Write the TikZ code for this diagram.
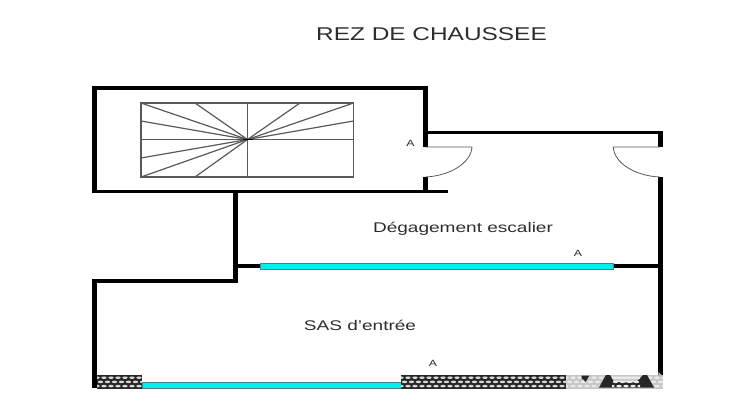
\documentclass[tikz,border=0pt]{standalone}
\usepackage{fontspec}
\setmainfont{Liberation Sans}
\definecolor{glass}{RGB}{0,240,240}
\definecolor{glassedge}{RGB}{70,130,135}
\definecolor{txt}{RGB}{45,45,45}
\newcommand{\wide}[1]{\scalebox{1.36}[1]{#1}}
\newcommand{\scallops}[4]{% x0, x1, colour, unused
  \begin{scope}
    \clip (#1,375.5) rectangle (#2,388.5);
    \foreach \yy/\off in {377.7/0,381.9/3.5,386.1/0}{
      \foreach \xx in {0,7,...,280}{
        \fill[#3] ({#1+\xx+\off},\yy) ellipse[x radius=2.7,y radius=1.25];
      }
    }
  \end{scope}}
\tikzset{
  thick wall/.style={line width=5pt,line cap=butt,line join=round,black},
  thin wall/.style={line width=3.5pt,line cap=butt,line join=round,black},
  hair/.style={line width=1.2pt,black!65},
  door/.style={line width=.8pt,black!65},
  glasspane/.style={fill=glass,draw=glassedge,line width=.8pt},
  tlabel/.style={font=\fontsize{14pt}{16pt}\selectfont,text=txt,inner sep=0pt},
  ttitle/.style={font=\fontsize{18.5pt}{20pt}\selectfont,text=txt,inner sep=0pt},
  tmark/.style={font=\fontsize{9pt}{10pt}\selectfont,text=txt,inner sep=0pt}
}
\begin{document}
\begin{tikzpicture}[x=1pt,y=-1pt]
\useasboundingbox (0,0) rectangle (750,420);
% walls
\draw[thin wall] (92,88) -- (427,88);
\draw[thick wall] (94.5,86.5) -- (94.5,193);
\draw[thick wall] (425,86.5) -- (425,147);
\draw[thick wall] (425,177) -- (425,191);
\draw[thin wall] (92,191.7) -- (448,191.7);
\draw[thin wall] (425,132.3) -- (663,132.3);
\draw[thick wall] (660.8,131) -- (660.8,147);
\draw[thick wall] (660.8,177) -- (660.8,376);
\draw[thick wall] (235.7,190) -- (235.7,283);
\draw[thin wall] (92,281) -- (238,281);
\draw[thick wall] (94.5,279.5) -- (94.5,388);
\draw[thin wall] (236,266) -- (260,266);
\draw[thin wall] (613,266) -- (660,266);
% stairs
\coordinate (c) at (247.5,139.5);
\draw[hair] (141,103) rectangle (353.5,177);
\draw[hair] (247.5,103) -- (247.5,177);
\draw[hair] (141,139.5) -- (353.5,139.5);
\foreach \p in {(141,103),(195,103),(141,121),(141,158),(141,177),(195,177),
                (300,103),(353.5,103),(353.5,121)}
  \draw[hair] (c) -- \p;
\draw[line width=1.6pt,black] (243,139.5) -- (253,139.5);
% doors
\draw[door] (425,147) -- (472,147) .. controls (471,163) and (450,176) .. (425,177);
\draw[door] (660,147) -- (613.3,147) .. controls (614,163) and (635,176) .. (660,177);
% glazing
\draw[glasspane] (260,263) rectangle (613,269.7);
\draw[glasspane] (142,382) rectangle (401,388.7);
% hatched base
\fill[black!85] (97,375) rectangle (142,388.7);
\scallops{97}{142}{white!85!black}{}
\fill[black!85] (401,375) rectangle (566,388.7);
\scallops{401}{566}{white!85!black}{}
\fill[black!22] (566,375) rectangle (663,388.7);
\scallops{566}{663}{white!92!black}{}
\fill[black!85] (581.5,375.5) -- (589.5,375.5) -- (585.5,382) -- (583,379) -- (581.5,379) -- cycle;
\fill[black!85] (599,387.5) -- (606,375) -- (610,375) -- (614,382) -- (636,382.5) -- (643,375) -- (647,375) -- (654,387.5) -- cycle;
\scallops{612}{640}{white!92!black}{}
\fill[black!30] (663,376) -- (658.3,372) -- (658.3,376) -- cycle;
% labels
\node[ttitle] (title) at (431.5,34.5) {\scalebox{1.32}[1]{REZ DE CHAUSSEE}};
\node[tlabel] (deg) at (463,228.5) {\wide{Dégagement escalier}};
\node[tlabel] (sas) at (360,325) {\wide{SAS d'entrée}};
\node[tmark] (a1) at (410.5,143) {\wide{A}};
\node[tmark] (a2) at (578,253) {\wide{A}};
\node[tmark] (a3) at (433,363) {\wide{A}};
\end{tikzpicture}
\end{document}
